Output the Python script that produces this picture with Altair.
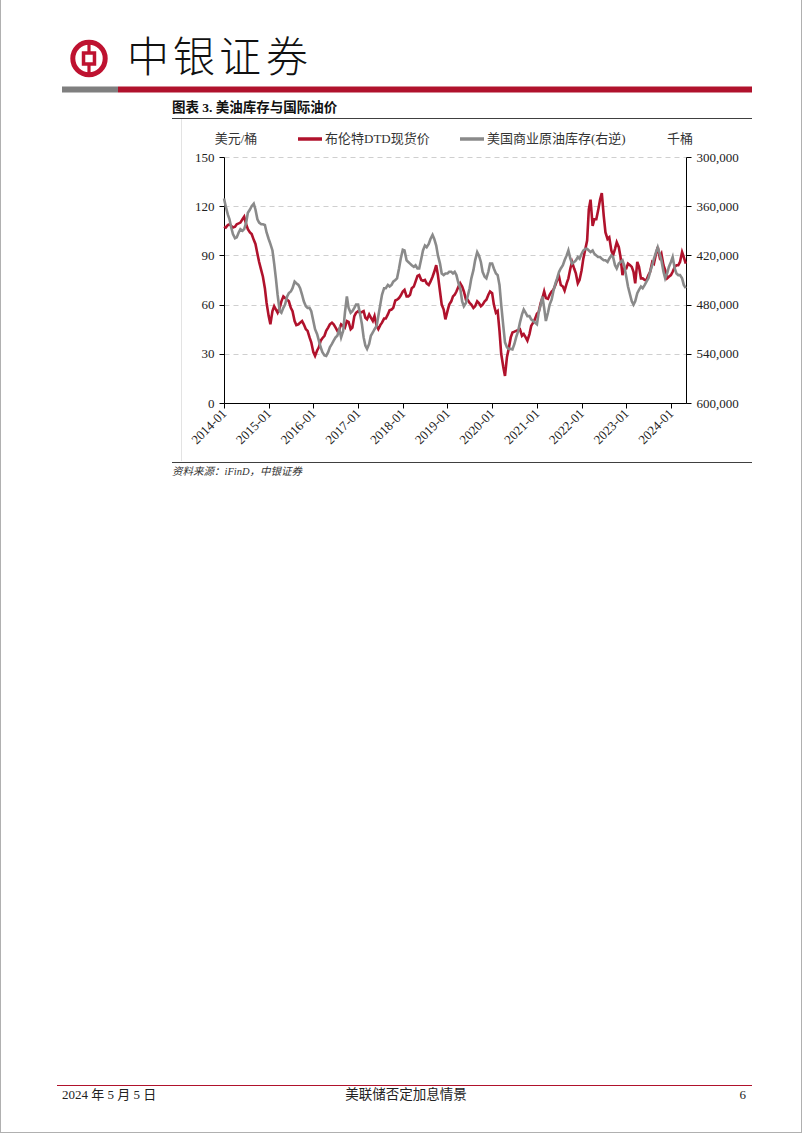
import altair as alt
import pandas as pd

# ---------------- data (semi-monthly readings, 1st & 15th of each month) ----------------
brent_2014 = [107.5, 107, 108.5, 109, 108, 107, 107.5, 109, 109.5, 110, 112, 113.6,
              109, 106, 104, 103, 99.5, 97, 91, 86, 81, 77, 70, 61]
brent_2015 = [53, 48, 56, 59, 57, 55, 58, 62, 65, 64, 63, 62,
              58, 56, 50, 47.5, 48, 49, 50, 48, 45, 44, 40, 37]
brent_2016 = [31, 28.7, 32, 34, 38, 39.5, 41, 44, 46, 48, 49, 48,
              46, 44, 45, 48, 47, 46, 50, 49.5, 45, 46, 53, 55]
brent_2017 = [56, 55, 55.5, 56, 52, 51, 54, 52, 50, 53, 47, 45,
              47.5, 49, 51.5, 51.5, 54, 56.5, 57, 58, 62.5, 63, 64, 65.5]
brent_2018 = [68, 69, 65, 65, 66, 70, 71, 74, 77.5, 78, 75, 74.5,
              75, 73, 72, 74, 77, 80, 84, 78, 68, 60, 57, 51]
brent_2019 = [56, 60, 62, 65, 66, 68, 71, 73, 71, 68, 63, 63,
              61, 60, 58, 59, 62, 61, 59, 60, 62, 63, 66, 68]
brent_2020 = [67, 60, 55, 56, 44, 30, 22, 16.5, 28, 33, 40, 43,
              43.5, 44, 44.5, 45, 41, 42, 40, 38, 42, 47, 49, 51]
brent_2021 = [54.5, 55.5, 61, 64, 68, 64, 63.5, 66, 68, 69, 72, 75,
              77, 72, 71, 68.5, 73, 76, 82, 86, 82, 79, 73, 75]
brent_2022 = [81, 88, 94, 99, 118, 124, 108, 112, 112, 117, 124, 128,
              114, 104, 100, 101, 93, 90, 94, 98, 95, 89, 78, 82]
brent_2023 = [82, 85, 84, 83, 80, 73, 86, 83, 76, 76, 75, 75,
              78, 80, 86, 85, 91, 95, 89, 91, 84, 81, 76, 77]
brent_2024 = [78, 80, 83, 84, 84, 86, 92, 89, 85]

# US commercial crude inventories, thousand barrels
stock_2014 = [350600, 360000, 370000, 376000, 386000, 394000, 399000, 398000, 392000, 388000, 390000, 388000,
              380000, 368000, 364000, 360000, 357000, 364000, 376000, 380000, 382000, 382000, 383000, 392000]
stock_2015 = [400000, 406000, 414000, 430000, 448000, 468000, 488000, 490000, 484000, 480000, 470000, 466000,
              464000, 460000, 452000, 454000, 456000, 460000, 468000, 476000, 482000, 484000, 484000, 488000]
stock_2016 = [500000, 510000, 516000, 524000, 532000, 538000, 542000, 542600, 538000, 532000, 528000, 524000,
              520000, 518000, 510000, 520000, 512000, 490000, 470000, 484000, 490000, 488000, 484000, 480000]
stock_2017 = [480000, 490000, 504000, 520000, 530000, 534000, 528000, 518000, 514000, 510000, 506000, 494000,
              480000, 468000, 460000, 460000, 456000, 458000, 456000, 452000, 450000, 448000, 436000, 424000]
stock_2018 = [413200, 414000, 426000, 428000, 430000, 432000, 434000, 432000, 436000, 436000, 424000, 414000,
              408000, 410000, 406000, 400000, 395000, 400000, 408000, 420000, 430000, 442000, 444000, 442000]
stock_2019 = [442000, 440000, 440000, 442000, 440000, 444000, 454000, 460000, 476000, 482000, 478000, 470000,
              460000, 448000, 438000, 426000, 416000, 420000, 428000, 440000, 446000, 448000, 440000, 430000]
stock_2020 = [430000, 436000, 442000, 444000, 456000, 480000, 506000, 526000, 532000, 534000, 534000, 534600,
              528000, 520000, 512000, 502000, 492000, 486000, 490000, 494000, 494000, 498000, 500000, 502000]
stock_2021 = [504000, 490000, 480000, 470000, 484000, 500000, 490000, 480000, 474000, 464000, 454000, 448000,
              440000, 436000, 432000, 426000, 420000, 414000, 424000, 430000, 428000, 426000, 422000, 424000]
stock_2022 = [418000, 414000, 412000, 412000, 414000, 416000, 414000, 418000, 420000, 422000, 422000, 424000,
              426000, 426000, 428000, 424000, 420000, 422000, 432000, 436000, 430000, 428000, 426000, 432000]
stock_2023 = [446000, 458000, 468000, 476000, 480000, 476000, 466000, 462000, 458000, 460000, 456000, 452000,
              448000, 440000, 432000, 424000, 416000, 410000, 418000, 426000, 440000, 448000, 442000, 434000]
stock_2024 = [428000, 422000, 436000, 442000, 444000, 444000, 448000, 456000, 460000]

left_ticks = [0, 30, 60, 90, 120, 150]
right_ticks = [300000, 360000, 420000, 480000, 540000, 600000]
tick_years = list(range(2014, 2025))

brent = (brent_2014 + brent_2015 + brent_2016 + brent_2017 + brent_2018 + brent_2019 +
         brent_2020 + brent_2021 + brent_2022 + brent_2023 + brent_2024)
stock = (stock_2014 + stock_2015 + stock_2016 + stock_2017 + stock_2018 + stock_2019 +
         stock_2020 + stock_2021 + stock_2022 + stock_2023 + stock_2024)
dates = pd.date_range("2014-01-01", "2024-05-01", freq="SMS")
n = min(len(dates), len(brent), len(stock))
df = pd.DataFrame({
    "date": dates[:n].strftime("%Y-%m-%dT00:00:00"),
    "brent": brent[:n],
    "stock": stock[:n],
})

# ---------------- layout ----------------
PL, PT = 224, 157          # plot area origin on the page
PW, PH = 462, 246          # plot area size
PAGE_W, PAGE_H = 802, 1133

RED = "#B0122C"
GRAY = "#8A8A8A"
SERIF = "Liberation Serif, Noto Sans CJK SC"
CJK = "Noto Sans CJK SC"


def px(x):
    return x - PL


def py(y):
    return y - PT


one = pd.DataFrame({"k": [0]})


def text(t, x, y, size=13, align="left", font=SERIF, color="#1a1a1a", weight="normal", style="normal"):
    return alt.Chart(one).mark_text(
        text=t, align=align, baseline="middle", font=font, fontSize=size,
        color=color, fontWeight=weight, fontStyle=style
    ).encode(x=alt.value(px(x)), y=alt.value(py(y)))


def rule(x1, y1, x2, y2, color, width=1, dash=None):
    kw = dict(color=color, strokeWidth=width)
    if dash:
        kw["strokeDash"] = dash
    return alt.Chart(one).mark_rule(**kw).encode(
        x=alt.value(px(x1)), y=alt.value(py(y1)), x2=alt.value(px(x2)), y2=alt.value(py(y2)))


def rect(x1, y1, x2, y2, color):
    return alt.Chart(one).mark_rect(color=color).encode(
        x=alt.value(px(x1)), y=alt.value(py(y1)), x2=alt.value(px(x2)), y2=alt.value(py(y2)))


xdom = [alt.DateTime(year=2014, month=1, date=1), alt.DateTime(year=2024, month=5, date=3)]
xvals = [alt.DateTime(year=y, month=1, date=1) for y in tick_years]

red_line = alt.Chart(df).mark_line(color=RED, strokeWidth=2.6).encode(
    x=alt.X("date:T", scale=alt.Scale(domain=xdom),
            axis=alt.Axis(values=xvals, format="%Y-%m", labelAngle=-45, labelAlign="right",
                          labelBaseline="middle", labelPadding=3, labelFont=SERIF, labelFontSize=13,
                          labelColor="#222", tickColor="#000", tickSize=5, domainColor="#000",
                          grid=False, title=None, labelOverlap=False)),
    y=alt.Y("brent:Q", scale=alt.Scale(domain=[0, 150]),
            axis=alt.Axis(values=left_ticks, grid=True, gridDash=[5, 4], gridColor="#cfcfcf",
                          gridWidth=1, labelFont=SERIF, labelFontSize=13, labelColor="#222",
                          tickColor="#000", tickSize=5, labelPadding=5, domainColor="#000", title=None)),
)

gray_line = alt.Chart(df).mark_line(color=GRAY, strokeWidth=2.6).encode(
    x="date:T",
    y=alt.Y("stock:Q", scale=alt.Scale(domain=[300000, 600000], reverse=True),
            axis=alt.Axis(orient="right", values=right_ticks, format=",.0f", grid=False,
                          labelFont=SERIF, labelFontSize=13, labelColor="#222", tickColor="#000",
                          tickSize=5, labelPadding=5, domainColor="#000", title=None)),
)

plot = alt.layer(red_line, gray_line).resolve_scale(y="independent")

deco = []
# page frame
deco.append(rule(0.5, 0, 0.5, PAGE_H, "#b0b0b0"))
deco.append(rule(PAGE_W - 0.5, 0, PAGE_W - 0.5, PAGE_H, "#b0b0b0"))
deco.append(rule(0, PAGE_H - 0.5, PAGE_W, PAGE_H - 0.5, "#b0b0b0"))

# logo
LOGO = "#BE1230"
deco.append(alt.Chart(one).mark_point(shape="circle", filled=False, stroke=LOGO, strokeWidth=5,
                                      opacity=1).encode(
    x=alt.value(px(89)), y=alt.value(py(58.5)), size=alt.value(1050)))
deco.append(alt.Chart(one).mark_point(shape="square", filled=False, stroke=LOGO, strokeWidth=3.5,
                                      opacity=1).encode(
    x=alt.value(px(89)), y=alt.value(py(58.5)), size=alt.value(120)))
deco.append(rule(89, 41, 89, 53, LOGO, 3.2))
deco.append(rule(89, 64, 89, 76, LOGO, 3.2))

# header title characters
for ch, cx in zip("中银证券", [148, 194, 240, 287]):
    deco.append(text(ch, cx, 59, size=42, align="center", font=CJK, color="#111", weight=300))

# header bar
deco.append(rect(62, 86.5, 118, 92.5, "#7f7f7f"))
deco.append(rect(118, 86.5, 752, 92.5, RED))

# chart title and frame
deco.append(text("图表 3. 美油库存与国际油价", 172, 108, size=13.5, weight="bold", color="#111"))
deco.append(rule(172, 118.5, 752, 118.5, "#404040", 1))
deco.append(rule(181.5, 119, 181.5, 461, "#e3e3e3", 1))
deco.append(rule(172, 462.5, 752, 462.5, "#404040", 1.2))
deco.append(text("资料来源：iFinD，中银证券", 172, 471.5, size=10.5, style="italic", color="#333"))

# legend & axis units
deco.append(text("美元/桶", 236, 139, size=13, align="center", color="#333"))
deco.append(text("千桶", 680, 139, size=13, align="center", color="#333"))
deco.append(rule(298, 139, 322, 139, RED, 3.5))
deco.append(text("布伦特DTD现货价", 325, 139, size=13, color="#333"))
deco.append(rule(460, 139, 484, 139, GRAY, 3.5))
deco.append(text("美国商业原油库存(右逆)", 487, 139, size=13, color="#333"))

# footer
deco.append(rule(57, 1085.5, 752, 1085.5, RED, 1))
deco.append(text("2024 年 5 月 5 日", 62, 1095, size=13, color="#222"))
deco.append(text("美联储否定加息情景", 406, 1095, size=13.5, align="center", color="#222"))
deco.append(text("6", 746, 1095, size=13, align="right", color="#222"))

chart = alt.layer(plot, *deco).properties(
    width=PW, height=PH,
    padding={"left": PL, "top": PT, "right": PAGE_W - PL - PW, "bottom": PAGE_H - PT - PH},
    autosize=alt.AutoSizeParams(type="none"),
    background="white",
).configure_view(stroke=None)

chart.save("out.html", embed_options={"renderer": "svg", "actions": False})
